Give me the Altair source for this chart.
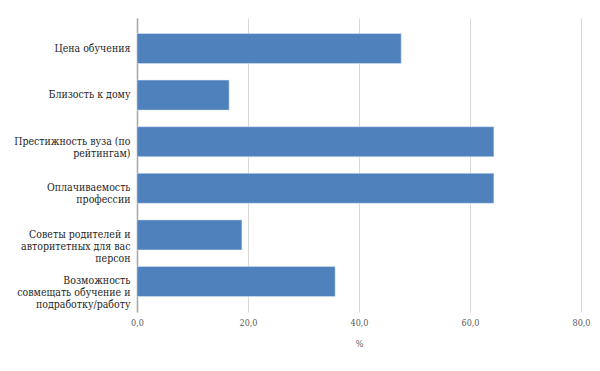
import altair as alt
import pandas as pd

categories = [
    "Цена обучения",
    "Близость к дому",
    "Престижность вуза (по|рейтингам)",
    "Оплачиваемость|профессии",
    "Советы родителей и|авторитетных для вас|персон",
    "Возможность|совмещать обучение и|подработку/работу",
]
values = [47.6, 16.6, 64.3, 64.3, 18.9, 35.7]
x_ticks = [0, 20, 40, 60, 80]

FONT = "'DejaVu Serif Condensed', 'DejaVu Serif', serif"

df = pd.DataFrame({"cat": categories, "val": values})

chart = alt.Chart(df).mark_bar(color="#4F81BD", stroke="#DCE6F2", strokeWidth=0.5).encode(
    y=alt.Y("cat:N", sort=categories, title=None,
            scale=alt.Scale(paddingInner=0.356, paddingOuter=0.333),
            axis=alt.Axis(labelExpr="split(datum.label, '|')",
                          labelFontSize=10.5, labelColor="#262626", labelLineHeight=12,
                          labelPadding=7, ticks=False, domainColor="#A6A6A6",
                          domainWidth=1.5, grid=False, labelLimit=200)),
    x=alt.X("val:Q", title="%", scale=alt.Scale(domain=[0, 80], nice=False),
            axis=alt.Axis(values=x_ticks,
                          labelExpr="replace(format(datum.value, '.1f'), '.', ',')",
                          labelFontSize=9, labelColor="#595959", labelFlush=False,
                          titleFontSize=9, titleColor="#595959",
                          titleFontWeight="normal", titlePadding=12, labelPadding=6,
                          ticks=False, domain=False, grid=True, gridColor="#D9D9D9",
                          gridWidth=1)),
).properties(
    width=444, height=294,
    autosize=alt.AutoSizeParams(type="none"),
    padding={"left": 129, "top": 10, "right": 10, "bottom": 40},
).configure(font=FONT).configure_view(stroke=None)

chart.save("out.html", embed_options={"renderer": "svg", "actions": False})
